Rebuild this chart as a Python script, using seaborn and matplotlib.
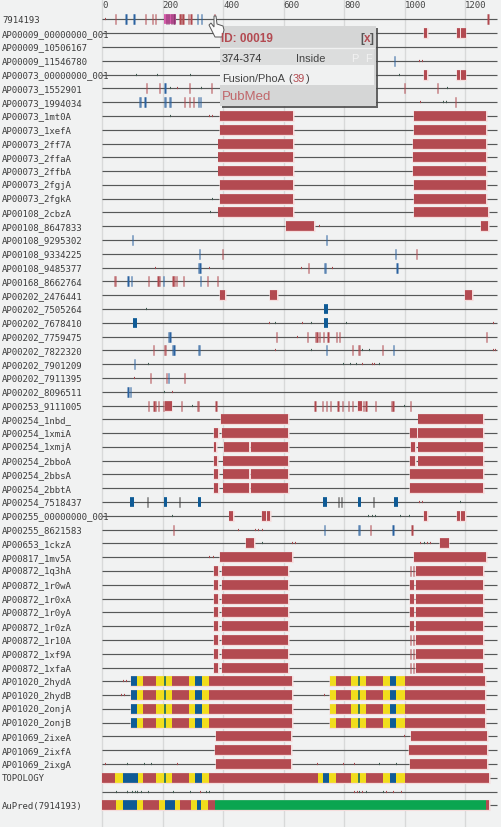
import matplotlib
matplotlib.use("Agg")
import matplotlib.pyplot as plt
from matplotlib.patches import Rectangle, Polygon
import seaborn as sns
import pandas as pd

row_labels = [
    "7914193", "AP00009_00000000_001", "AP00009_10506167", "AP00009_11546780",
    "AP00073_00000000_001", "AP00073_1552901", "AP00073_1994034", "AP00073_1mt0A",
    "AP00073_1xefA", "AP00073_2ff7A", "AP00073_2ffaA", "AP00073_2ffbA",
    "AP00073_2fgjA", "AP00073_2fgkA", "AP00108_2cbzA", "AP00108_8647833",
    "AP00108_9295302", "AP00108_9334225", "AP00108_9485377", "AP00168_8662764",
    "AP00202_2476441", "AP00202_7505264", "AP00202_7678410", "AP00202_7759475",
    "AP00202_7822320", "AP00202_7901209", "AP00202_7911395", "AP00202_8096511",
    "AP00253_9111005", "AP00254_1nbd_", "AP00254_1xmiA", "AP00254_1xmjA",
    "AP00254_2bboA", "AP00254_2bbsA", "AP00254_2bbtA", "AP00254_7518437",
    "AP00255_00000000_001", "AP00255_8621583", "AP00653_1ckzA", "AP00817_1mv5A",
    "AP00872_1q3hA", "AP00872_1r0wA", "AP00872_1r0xA", "AP00872_1r0yA",
    "AP00872_1r0zA", "AP00872_1r10A", "AP00872_1xf9A", "AP00872_1xfaA",
    "AP01020_2hydA", "AP01020_2hydB", "AP01020_2onjA", "AP01020_2onjB",
    "AP01069_2ixeA", "AP01069_2ixfA", "AP01069_2ixgA", "TOPOLOGY", "",
    "AuPred(7914193)",
]
x_ticks = [0, 200, 400, 600, 800, 1000, 1200]
seq_len = 1307

# red alignment blocks per row (start, end)
red_blocks = {
    1: [(1064, 1075), (1172, 1184), (1188, 1202)],
    4: [(1064, 1075), (1172, 1184), (1188, 1202)],
    7: [(389, 631), (1030, 1269)], 8: [(389, 631), (1030, 1269)],
    9: [(385, 631), (1027, 1269)], 10: [(385, 631), (1027, 1269)],
    11: [(385, 631), (1027, 1269)], 12: [(389, 631), (1030, 1269)],
    13: [(389, 631), (1030, 1269)], 14: [(385, 631), (1030, 1276)],
    15: [(607, 701), (1252, 1276)],
    20: [(389, 407), (555, 580), (1200, 1224)],
    28: [(209, 230), (845, 858)],
    29: [(394, 616), (1046, 1260)],
    30: [(371, 385), (396, 616), (1018, 1041), (1046, 1260)],
    31: [(371, 378), (404, 487), (491, 616), (1020, 1036), (1046, 1260)],
    32: [(371, 381), (401, 616), (1018, 1036), (1046, 1260)],
    33: [(371, 385), (401, 487), (491, 616), (1018, 1260)],
    34: [(371, 385), (401, 487), (491, 616), (1018, 1260)],
    36: [(421, 434), (528, 542), (545, 556), (1064, 1075), (1172, 1184), (1188, 1200)],
    38: [(476, 504), (1117, 1146)],
    39: [(389, 629), (1030, 1269)],
    40: [(370, 385), (396, 616), (1037, 1260)],
    41: [(370, 385), (396, 616), (1019, 1030), (1037, 1260)],
    42: [(370, 385), (396, 616), (1019, 1030), (1037, 1260)],
    43: [(370, 385), (396, 616), (1019, 1030), (1037, 1260)],
    44: [(370, 385), (396, 616), (1019, 1030), (1037, 1260)],
    45: [(370, 385), (396, 616), (1037, 1260)],
    46: [(370, 385), (396, 616), (1037, 1260)],
    47: [(370, 385), (396, 616), (1037, 1260)],
    52: [(376, 625), (1021, 1274)],
    53: [(374, 625), (1015, 1274)],
    54: [(376, 625), (1018, 1274)],
}
blue_blocks = {
    21: [(734, 748)],
    22: [(101, 115), (734, 748)],
    35: [(94, 106), (205, 216), (316, 328), (732, 745), (846, 857), (965, 977)],
}
pink_blocks = {0: [(205, 245)]}

# narrow hits per row (position only)
red_ticks = {
    0: [45, 143, 166, 177, 258, 263, 268, 285, 294, 373, 1276],
    5: [147, 191, 288, 361, 1000, 1110],
    6: [274, 288, 302, 1169],
    17: [398, 1040],
    18: [682],
    19: [42, 44, 153, 185, 189, 235, 240, 247, 270, 349, 383],
    23: [578, 679, 706, 711, 718, 733, 747, 774, 785, 1272],
    24: [171, 207, 211, 828, 847, 851, 927],
    26: [161, 212, 274],
    28: [155, 172, 178, 187, 204, 262, 316, 320, 377, 704, 729, 741, 756, 780, 795,
         815, 828, 865, 873, 905, 958, 962, 1019],
    37: [237, 888, 1025],
    40: [1020, 1029], 45: [1020, 1029], 46: [1020, 1029], 47: [1020, 1029],
}
blue_ticks = {
    0: [79, 106, 316, 329],
    3: [968],
    5: [208],
    6: [124, 128, 142, 206, 210, 223, 227, 318, 326],
    16: [100, 743],
    17: [323, 970],
    18: [320, 324, 735, 739, 975],
    19: [86, 98, 204, 325],
    23: [221, 225],
    24: [234, 238, 319, 323, 743, 964],
    25: [107],
    26: [221],
    27: [86, 94],
    37: [736, 847, 851, 962],
}
dark_ticks = {35: [150, 255, 782, 792, 897]}
purple_ticks = {0: [212, 221, 230, 238]}

# very small fragments on the row line
tiny_red = {
    0: [13, 373], 3: [1051, 1060], 5: [250, 330], 6: [1053, 1128, 1138],
    7: [354, 366], 15: [719], 18: [177, 354, 658, 761], 22: [663, 555, 1294],
    23: [647], 24: [572, 1294, 1302], 25: [860, 894, 902], 26: [106], 27: [234],
    35: [1048, 1060], 37: [451, 506, 518, 529], 38: [631, 639, 1053, 1075, 1087],
    39: [354, 368], 48: [72, 82], 49: [65, 73, 737], 52: [1001], 54: [10, 250, 714, 798, 835],
    56: [85, 118, 325, 835, 843, 862, 942, 962, 990],
}
tiny_dark = {
    4: [115, 184, 293, 982], 5: [228, 330, 1142], 6: [1128, 1138], 7: [226],
    13: [365], 14: [360], 21: [148], 22: [572, 694, 809], 24: [694, 860, 885],
    25: [153, 798, 823, 842, 919], 27: [207], 28: [300, 1000], 35: [1186],
    36: [232, 880, 893, 905, 986, 1015], 38: [530, 1067], 54: [84, 141, 165, 916, 975],
    56: [48, 84, 100, 110, 118, 132, 155, 238, 292, 345, 355, 850, 875, 930],
}

# coloured topology tracks
hyd_red = [(136, 177), (231, 288), (355, 629), (775, 823), (873, 930), (1000, 1266)]
hyd_yellow = [(117, 136), (177, 204), (212, 231), (288, 309), (329, 355),
              (754, 775), (823, 845), (854, 873), (930, 953), (972, 1000)]
hyd_blue = [(96, 117), (309, 329), (953, 972)]
hyd_teal = [(204, 212), (845, 854)]
hyd_rows = [48, 49, 50, 51]

topo_row = 55
topo_red = [(0, 44), (136, 177), (231, 288), (355, 715), (775, 823), (873, 930), (1000, 1279)]
topo_yellow = [(44, 68), (118, 136), (177, 204), (212, 231), (288, 309), (329, 355),
               (715, 732), (749, 775), (823, 845), (854, 873), (930, 953), (972, 1000)]
topo_blue = [(68, 118), (309, 329), (732, 749), (953, 972)]
topo_teal = [(204, 212), (845, 854)]

pred_row = 57
pred_red = [(0, 47), (136, 188), (258, 294), (349, 374), (1271, 1279)]
pred_yellow = [(47, 68), (116, 136), (188, 208), (240, 258), (294, 314), (327, 349)]
pred_blue = [(68, 116), (208, 240), (314, 327)]
pred_green = [(374, 1271)]

BG = "#f1f2f2"
palette = {"red": "#b34a51", "yellow": "#f1dd1c", "blue": "#0f5b96", "teal": "#3a7a5a",
           "green": "#0aa550", "pink": "#d45aa8", "thin_red": "#b0484e",
           "thin_blue": "#2a62a0", "dark": "#404040", "purple": "#8a3a70",
           "tiny_red": "#a2484c", "tiny_dark": "#3f5a50"}
MONO = "DejaVu Sans Mono"
PX = 0.3025  # pixels per residue

sns.set_style("white")

fig = plt.figure(figsize=(5.01, 8.28), dpi=100, facecolor=BG)
ax = fig.add_axes([0, 0, 1, 1], facecolor=BG)


def add_spans(rows, spans, kind, table, pad=0):
    for row in rows:
        for start, end in spans:
            seg = len(table)
            table.append((seg, start - pad, row, kind))
            table.append((seg, end + pad, row, kind))


def add_dict(data, kind, table, pad=0):
    for row, spans in data.items():
        add_spans([row], spans, kind, table, pad)


def add_ticks(data, kind, width, table):
    for row, values in data.items():
        add_spans([row], [(v - width / 2, v + width / 2) for v in values], kind, table)


def draw(table, lw, pal=None):
    df = pd.DataFrame(table, columns=["seg", "pos", "row", "kind"])
    sns.lineplot(data=df, x="pos", y="row", hue="kind", units="seg", estimator=None,
                 sort=False, palette=pal or palette, linewidth=lw, legend=False, ax=ax,
                 solid_capstyle="butt")


for v in x_ticks:
    ax.axvline(v, color="#d8d9d9", lw=1.0, zorder=0)

# row lines
lines = []
add_spans(range(len(row_labels)), [(0, seq_len)], "line", lines)
draw(lines, 0.85, pal={"line": "#565858"})

# all solid blocks
blocks = []
add_dict(red_blocks, "red", blocks)
add_dict(blue_blocks, "blue", blocks)
add_spans(hyd_rows, hyd_red, "red", blocks)
add_spans(hyd_rows, hyd_yellow, "yellow", blocks)
add_spans(hyd_rows, hyd_blue, "blue", blocks)
add_spans(hyd_rows, hyd_teal, "teal", blocks)
add_spans([topo_row], topo_red, "red", blocks)
add_spans([topo_row], topo_yellow, "yellow", blocks)
add_spans([topo_row], topo_blue, "blue", blocks)
add_spans([topo_row], topo_teal, "teal", blocks)
add_spans([pred_row], pred_red, "red", blocks)
add_spans([pred_row], pred_yellow, "yellow", blocks)
add_spans([pred_row], pred_blue, "blue", blocks)
add_spans([pred_row], pred_green, "green", blocks)
add_dict(pink_blocks, "pink", blocks)

# soft halo around the blocks, like in the screenshot
halo = []
add_dict(red_blocks, "halo", halo, pad=2.5)
add_spans(hyd_rows, hyd_red + hyd_yellow + hyd_blue, "halo", halo, pad=2.5)
add_spans([topo_row], topo_red + topo_yellow + topo_blue, "halo", halo, pad=2.5)
add_spans([pred_row], pred_red + pred_yellow + pred_blue + pred_green, "halo", halo, pad=2.5)
draw(halo, 8.0, pal={"halo": "#f5dcdc"})
draw(blocks, 7.0)

thin = []
add_ticks(red_ticks, "thin_red", 4, thin)
add_ticks(blue_ticks, "thin_blue", 4, thin)
add_ticks(dark_ticks, "dark", 4, thin)
add_ticks(purple_ticks, "purple", 4, thin)
draw(thin, 7.6)

tiny = []
add_ticks(tiny_red, "tiny_red", 3.3, tiny)
add_ticks(tiny_dark, "tiny_dark", 3.3, tiny)
draw(tiny, 1.6)

ax.set_xlim(-102 / PX, (501 - 102) / PX)
ax.set_ylim((828 - 20.4) / 13.79, -20.4 / 13.79)
ax.set_xlabel("")
ax.set_ylabel("")
ax.set_yticks([])
ax.set_xticks(x_ticks)
ax.set_xticklabels([str(v) for v in x_ticks], family=MONO, fontsize=6.5, color="#444444", ha="left")
ax.tick_params(axis="x", bottom=False, top=False, labelbottom=False, labeltop=True, pad=-11)
sns.despine(ax=ax, left=True, bottom=True)

for i, label in enumerate(row_labels):
    ax.text(-330, i, label, family=MONO, fontsize=6.5, color="#3c3c3c", va="center", ha="left", zorder=1)

# popup box and cursor sit on a pixel-space overlay
ov = fig.add_axes([0, 0, 1, 1], facecolor="none")
ov.set_xlim(0, 501)
ov.set_ylim(828, 0)
ov.axis("off")

ov.add_patch(Rectangle((222, 29), 156, 80, fc="#4a4a4a", ec="none", alpha=0.85))
ov.add_patch(Rectangle((220, 27), 156, 80, fc="#d5d6d6", ec="none"))
ov.add_patch(Rectangle((220, 49), 154, 17, fc="#dcdddd", ec="none"))
ov.add_patch(Rectangle((220, 66), 154, 20, fc="#f0f1f1", ec="none"))
ov.add_patch(Rectangle((220, 86), 154, 20, fc="#d5d6d6", ec="none"))
ov.plot([220, 374], [48.5, 48.5], color="#f0f1f1", lw=1)

SANS = "Liberation Sans"
ov.text(221, 39, "ID: 00019", family=SANS, fontsize=8.5, weight="bold", color="#b34a51", va="center")
ov.text(360, 39, "[", family=SANS, fontsize=8.5, weight="bold", color="#555555", va="center")
ov.text(363.5, 39, "x", family=SANS, fontsize=8.5, weight="bold", color="#b34a51", va="center")
ov.text(369.5, 39, "]", family=SANS, fontsize=8.5, weight="bold", color="#555555", va="center")
ov.text(222, 59, "374-374", family=SANS, fontsize=7.9, color="#333333", va="center")
ov.text(296, 59, "Inside", family=SANS, fontsize=7.9, color="#444444", va="center")
ov.text(351, 59, "P", family=SANS, fontsize=7.9, color="#f2f2f2", va="center")
ov.text(365, 59, "F", family=SANS, fontsize=7.9, color="#f2f2f2", va="center")
ov.text(222, 78.5, "Fusion/PhoA", family=SANS, fontsize=7.9, color="#444444", va="center")
ov.text(288.5, 78.5, "(", family=SANS, fontsize=7.9, color="#444444", va="center")
ov.text(292.5, 78.5, "39", family=SANS, fontsize=7.9, color="#b34a51", va="center")
ov.text(305.5, 78.5, ")", family=SANS, fontsize=7.9, color="#444444", va="center")
ov.text(221.5, 97, "PubMed", family=SANS, fontsize=9.5, color="#c0666a", va="center")

hand = [(214, 17), (216, 17), (217, 25), (223, 27), (224, 31), (222, 38), (215, 38),
        (212, 32), (209, 26), (211, 24), (214, 28)]
ov.add_patch(Polygon(hand, closed=True, fc="#fafafa", ec="#555555", lw=0.7))

fig.savefig("out.png", dpi=100, facecolor=BG)
